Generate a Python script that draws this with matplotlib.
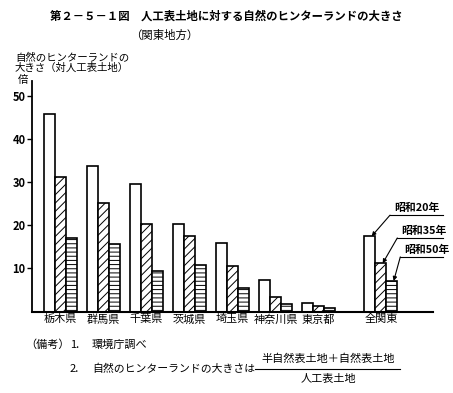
import matplotlib
matplotlib.use("Agg")
import matplotlib.pyplot as plt
from matplotlib.lines import Line2D
import numpy as np

plt.rcParams['font.family'] = ['Noto Sans CJK JP', 'DejaVu Sans']
plt.rcParams['hatch.linewidth'] = 0.7

# data (倍)
prefectures = ['栃木県', '群馬県', '千葉県', '茨城県', '埼玉県', '神奈川県', '東京都', '全関東']
s20 = [46.0, 33.8, 29.6, 20.3, 15.9, 7.3, 2.0, 17.5]
s35 = [31.2, 25.3, 20.4, 17.5, 10.5, 3.4, 1.2, 11.2]
s50 = [17.0, 15.7, 9.5, 10.9, 5.4, 1.7, 0.7, 7.1]
series_names = ['昭和20年', '昭和35年', '昭和50年']
yticks = [10, 20, 30, 40, 50]

W, H = 453, 393
fig = plt.figure(figsize=(W / 100, H / 100), dpi=100)
ax = fig.add_axes([31.7 / W, 1 - 311.5 / H, (433 - 31.7) / W, (311.5 - 81) / H])


def px(x, y):
    return x / W, 1 - y / H


# group positions, 全関東 set a bit apart
x = np.array([0, 1, 2, 3, 4, 5, 6, 7.45])
bw = 0.256
hatches = ['', '////', '----']
for i, vals in enumerate([s20, s35, s50]):
    ax.bar(x + (i - 1) * bw, vals, bw, facecolor='white', edgecolor='black',
           linewidth=1.2, hatch=hatches[i], zorder=2)

ax.set_xlim(-0.67, 8.66)
ax.set_ylim(0, 53.6)
ax.set_xticks(x)
ax.set_xticklabels(prefectures, fontsize=8)
ax.tick_params(axis='x', length=0, pad=2)
ax.set_yticks(yticks)
ax.set_yticklabels([str(t) for t in yticks], fontsize=8, fontweight='bold')
ax.tick_params(axis='y', direction='out', length=3.5, width=1, pad=1)
for s in ['top', 'right']:
    ax.spines[s].set_visible(False)
ax.spines['left'].set_linewidth(1.3)
ax.spines['bottom'].set_linewidth(1.5)

# series labels with leader lines to the 全関東 bars
label_y = [22.4, 17.1, 12.7]
label_x = [7.66, 7.83, 7.90]
for i, vals in enumerate([s20, s35, s50]):
    bx = x[-1] + (i - 1) * bw + 0.04
    ax.annotate('', xy=(bx, vals[-1]), xytext=(label_x[i], label_y[i]),
                arrowprops=dict(arrowstyle='-|>', lw=0.8, color='black',
                                mutation_scale=6, shrinkA=0, shrinkB=0),
                annotation_clip=False)
    ax.plot([label_x[i], 8.9], [label_y[i], label_y[i]], color='black',
            lw=0.8, clip_on=False)
    ax.text(label_x[i] + 0.1, label_y[i] + 0.4, series_names[i], fontsize=7.8,
            fontweight='bold', ha='left', va='bottom')

# titles
fig.text(*px(226.5, 16), '第２－５－１図　人工表土地に対する自然のヒンターランドの大きさ',
         fontsize=8.2, fontweight='bold', ha='center', va='center')
fig.text(*px(164, 35), '（関東地方）', fontsize=8.2, ha='center', va='center')

# y axis caption
fig.text(*px(15, 58), '自然のヒンターランドの', fontsize=7.5, ha='left', va='center')
fig.text(*px(15, 68), '大きさ（対人工表土地）', fontsize=7.5, ha='left', va='center')
fig.text(*px(23, 80), '倍', fontsize=7.5, ha='center', va='center')

# notes
fig.text(*px(25, 345), '（備考）', fontsize=8, ha='left', va='center')
fig.text(*px(70, 345), '1.', fontsize=8, ha='left', va='center')
fig.text(*px(92, 345), '環境庁調べ', fontsize=8, ha='left', va='center')
fig.text(*px(70, 369), '2.', fontsize=8, ha='left', va='center')
fig.text(*px(92, 369), '自然のヒンターランドの大きさは', fontsize=7.8, ha='left', va='center')
fig.text(*px(328, 359), '半自然表土地＋自然表土地', fontsize=8, ha='center', va='center')
fig.text(*px(328, 379), '人工表土地', fontsize=8, ha='center', va='center')
x0, y0 = px(255, 369)
x1, _ = px(400, 369)
fig.add_artist(Line2D([x0, x1], [y0, y0], color='black', lw=0.8))

fig.savefig('out.png', dpi=100)
